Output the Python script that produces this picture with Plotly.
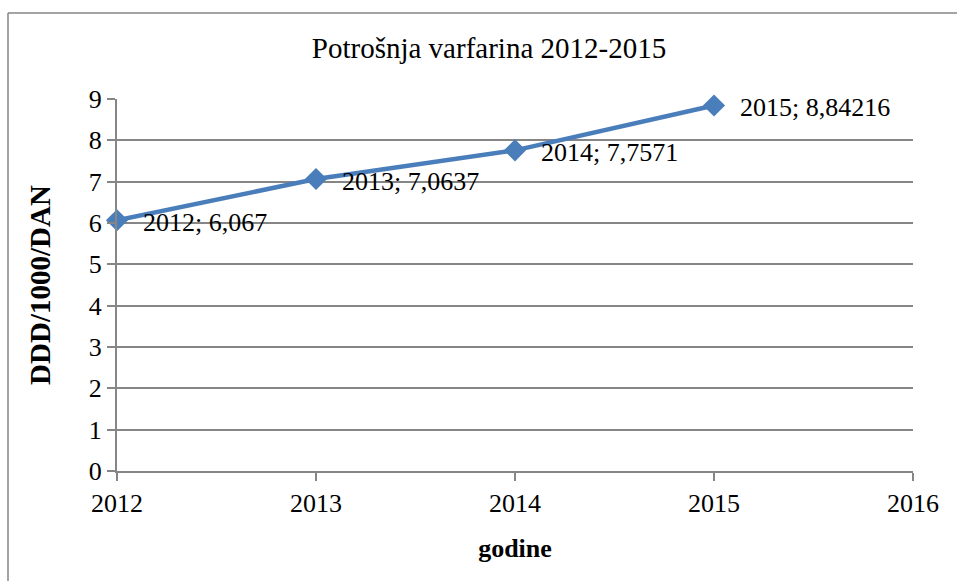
import plotly.graph_objects as go

# Chart data
years = [2012, 2013, 2014, 2015]
ddd_values = [6.067, 7.0637, 7.7571, 8.84216]
value_labels = ["6,067", "7,0637", "7,7571", "8,84216"]

title_text = "Potrošnja varfarina 2012-2015"
x_title = "godine"
y_title = "DDD/1000/DAN"

FONT = "Liberation Serif, Times New Roman, serif"
W, H = 957, 581
L, R, T, B = 117, 44, 99, 110

fig = go.Figure()
fig.add_trace(go.Scatter(
    x=years,
    y=ddd_values,
    mode="lines+markers",
    line=dict(color="#4a7ebb", width=4.5),
    marker=dict(symbol="diamond", size=17, color="#4a7ebb"),
    cliponaxis=False,
    showlegend=False,
))

# data labels "year; value" to the right of each point
for yr, val, lab in zip(years, ddd_values, value_labels):
    fig.add_annotation(
        x=yr, y=val, text=f"{yr}; {lab}",
        xanchor="left", yanchor="middle", xshift=24, yshift=-2,
        showarrow=False, font=dict(family=FONT, size=26, color="black"),
    )

pw, ph = W - L - R, H - T - B
# outer chart border: only the left and top edges fall inside the picture
bx = (8 - L) / pw
by = 1 + (T - 13) / ph
for x0, y0, x1, y1 in [(bx, by, bx, -1), (bx, by, 2, by)]:
    fig.add_shape(type="line", xref="paper", yref="paper",
                  x0=x0, y0=y0, x1=x1, y1=y1,
                  line=dict(color="#868686", width=1.5), layer="below")

fig.update_layout(
    width=W, height=H,
    margin=dict(l=L, r=R, t=T, b=B),
    paper_bgcolor="white", plot_bgcolor="white",
    font=dict(family=FONT, size=26, color="black"),
    title=dict(text=title_text, x=489 / W, xanchor="center",
               y=1 - 48 / H, yanchor="middle",
               font=dict(family=FONT, size=29)),
)

fig.update_xaxes(
    range=[2012, 2016], tickvals=[2012, 2013, 2014, 2015, 2016],
    showgrid=False, zeroline=False,
    showline=True, linecolor="#868686", linewidth=2,
    ticks="outside", ticklen=8, tickcolor="#868686", tickwidth=2,
    tickfont=dict(family=FONT, size=26),
    title=dict(text=f"<b>{x_title}</b>", standoff=22,
               font=dict(family=FONT, size=26)),
)
fig.update_yaxes(
    range=[0, 9], dtick=1,
    showgrid=True, gridcolor="#868686", gridwidth=1.5,
    zeroline=False,
    showline=True, linecolor="#868686", linewidth=2,
    ticks="outside", ticklen=8, tickcolor="#868686", tickwidth=2,
    tickfont=dict(family=FONT, size=26),
    title=dict(text=f"<b>{y_title}</b>", standoff=30,
               font=dict(family=FONT, size=29)),
)

# drop the page's default body margin so the figure fills the window
fig.write_html(
    "out.html",
    config={"displayModeBar": False},
    post_script="document.body.style.margin='0';document.body.style.overflow='hidden';",
)
